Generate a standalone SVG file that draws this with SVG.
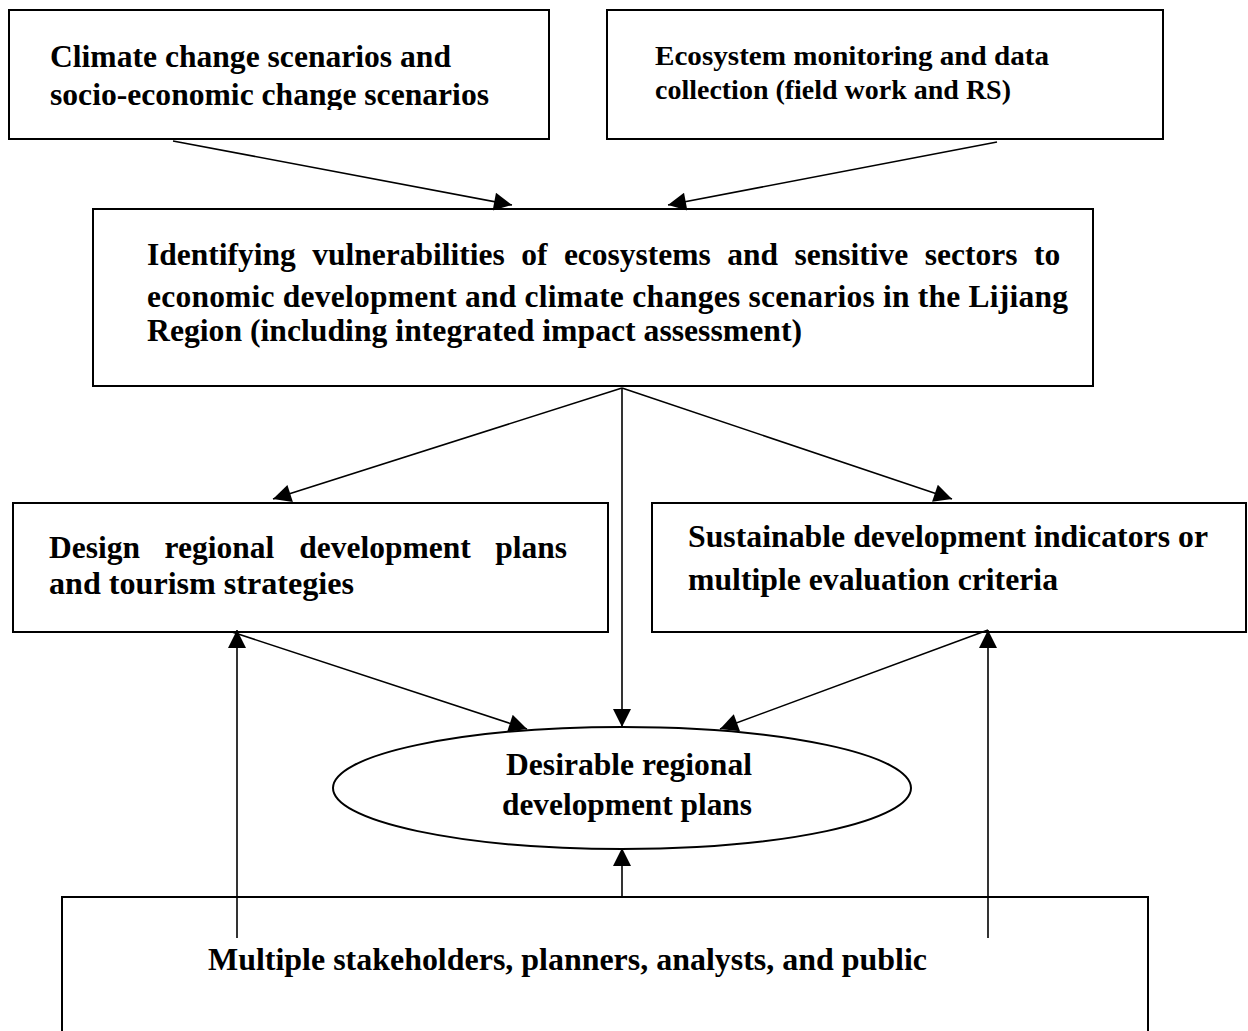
<svg xmlns="http://www.w3.org/2000/svg" width="1248" height="1031" viewBox="0 0 1248 1031">
  <style>
    .box { fill: #ffffff; stroke: #000000; stroke-width: 2; }
    .lbl { font-family: "Liberation Serif", "Times New Roman", serif; font-weight: bold; font-size: 31.5px; fill: #000000; }
    .sm { font-size: 28px; }
    .conn { stroke: #000000; stroke-width: 1.6; fill: none; marker-end: url(#arrow); }
  </style>
  <defs>
    <marker id="arrow" viewBox="0 0 10 10" refX="10" refY="5" markerWidth="26" markerHeight="18" markerUnits="userSpaceOnUse" orient="auto">
      <path d="M0,0 L10,5 L0,10 z" fill="#000000"/>
    </marker>
    <clipPath id="clipB1"><rect x="10" y="11" width="538" height="99"/></clipPath>
    <clipPath id="clipB5"><rect x="653" y="504" width="558" height="127"/></clipPath>
  </defs>

  <!-- Scenario inputs -->
  <g id="node-scenarios">
    <rect class="box" x="9" y="10" width="540" height="129"/>
    <g clip-path="url(#clipB1)">
      <text class="lbl" x="50" y="67" textLength="401" lengthAdjust="spacingAndGlyphs">Climate change scenarios and</text>
      <text class="lbl" x="50" y="105" textLength="439" lengthAdjust="spacingAndGlyphs">socio-economic change scenarios</text>
    </g>
  </g>

  <g id="node-monitoring">
    <rect class="box" x="607" y="10" width="556" height="129"/>
    <text class="lbl sm" x="655" y="65" textLength="394" lengthAdjust="spacingAndGlyphs">Ecosystem monitoring and data</text>
    <text class="lbl sm" x="655" y="99" textLength="356" lengthAdjust="spacingAndGlyphs">collection (field work and RS)</text>
  </g>

  <!-- Vulnerability assessment -->
  <g id="node-vulnerability">
    <rect class="box" x="93" y="209" width="1000" height="177"/>
    <text class="lbl" y="265">
      <tspan x="147">Identifying</tspan>
      <tspan x="312.3">vulnerabilities</tspan>
      <tspan x="521.2">of</tspan>
      <tspan x="563.9">ecosystems</tspan>
      <tspan x="727.3">and</tspan>
      <tspan x="794.5">sensitive</tspan>
      <tspan x="924.7">sectors</tspan>
      <tspan x="1033.9">to</tspan>
    </text>
    <text class="lbl" x="147" y="307" textLength="921" lengthAdjust="spacing">economic development and climate changes scenarios in the Lijiang</text>
    <text class="lbl" x="147" y="341" textLength="655" lengthAdjust="spacingAndGlyphs">Region (including integrated impact assessment)</text>
  </g>

  <!-- Planning and evaluation -->
  <g id="node-design">
    <rect class="box" x="13" y="503" width="595" height="129"/>
    <text class="lbl" y="558">
      <tspan x="49">Design</tspan>
      <tspan x="164.5">regional</tspan>
      <tspan x="299.3">development</tspan>
      <tspan x="495.3">plans</tspan>
    </text>
    <text class="lbl" x="49" y="594" textLength="305" lengthAdjust="spacingAndGlyphs">and tourism strategies</text>
  </g>

  <g id="node-indicators">
    <rect class="box" x="652" y="503" width="594" height="129"/>
    <g clip-path="url(#clipB5)">
      <text class="lbl" x="688" y="547" textLength="520" lengthAdjust="spacingAndGlyphs">Sustainable development indicators or</text>
    </g>
    <text class="lbl" x="688" y="590" textLength="370" lengthAdjust="spacingAndGlyphs">multiple evaluation criteria</text>
  </g>

  <!-- Outcome -->
  <g id="node-desirable">
    <ellipse class="box" cx="622" cy="788" rx="289" ry="61"/>
    <text class="lbl" x="506" y="775" textLength="246" lengthAdjust="spacingAndGlyphs">Desirable regional</text>
    <text class="lbl" x="502" y="815" textLength="250" lengthAdjust="spacingAndGlyphs">development plans</text>
  </g>

  <!-- Participants -->
  <g id="node-stakeholders">
    <rect class="box" x="62" y="897" width="1086" height="150"/>
    <text class="lbl" x="208" y="970" textLength="719" lengthAdjust="spacingAndGlyphs">Multiple stakeholders, planners, analysts, and public</text>
  </g>

  <!-- Connectors -->
  <g id="connectors">
    <line class="conn" x1="173" y1="141" x2="512" y2="205"/>
    <line class="conn" x1="997" y1="142" x2="668" y2="205"/>
    <line class="conn" x1="622" y1="388" x2="273" y2="499"/>
    <line class="conn" x1="622" y1="388" x2="952" y2="499"/>
    <line class="conn" x1="622" y1="388" x2="622" y2="727"/>
    <line class="conn" x1="232" y1="632" x2="527" y2="729"/>
    <line class="conn" x1="988" y1="630" x2="720" y2="729"/>
    <line class="conn" x1="237" y1="938" x2="237" y2="630"/>
    <line class="conn" x1="988" y1="938" x2="988" y2="630"/>
    <line class="conn" x1="622" y1="897" x2="622" y2="848"/>
  </g>
</svg>
